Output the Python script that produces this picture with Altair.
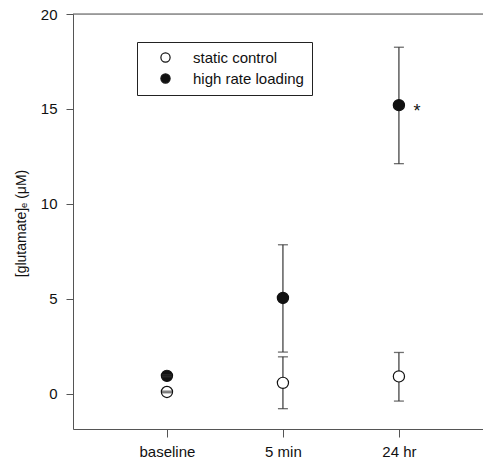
import altair as alt
import pandas as pd

categories = ["baseline", "5 min", "24 hr"]
series = ["static control", "high rate loading"]
static_mean = [0.10, 0.58, 0.92]
static_low = [0.06, -0.78, -0.38]
static_high = [0.14, 1.95, 2.18]
high_mean = [0.95, 5.05, 15.2]
high_low = [0.9, 2.2, 12.12]
high_high = [1.0, 7.85, 18.25]
significance = ["", "", "*"]

rows = []
for i, c in enumerate(categories):
    rows.append(dict(pos=i, cat=c, series=series[0], mean=static_mean[i],
                     low=static_low[i], high=static_high[i], sig=""))
    rows.append(dict(pos=i, cat=c, series=series[1], mean=high_mean[i],
                     low=high_low[i], high=high_high[i], sig=significance[i]))
df = pd.DataFrame(rows)

label_expr = "[" + ",".join("'%s'" % c for c in categories) + "][datum.value]"

x = alt.X("pos:Q",
          scale=alt.Scale(domain=[-0.81, 2.725], nice=False, zero=False),
          axis=alt.Axis(values=[0, 1, 2], labelExpr=label_expr, title=None,
                        grid=False, tickSize=8, labelPadding=7, labelFontSize=15,
                        domainColor="#555", tickColor="#555", labelColor="#111"))
y_scale = alt.Scale(domain=[-1.85, 20], nice=False, zero=False)
y = alt.Y("mean:Q", scale=y_scale,
          axis=alt.Axis(values=[0, 5, 10, 15, 20], title="[glutamate]ₑ (μM)",
                        grid=False, tickSize=7, labelPadding=9, labelFontSize=15,
                        titleFontSize=14, titleFontWeight="normal",
                        titleX=-52, titleY=209, titleAngle=-90,
                        titleAlign="center", titleBaseline="middle",
                        domainColor="#555", tickColor="#555", labelColor="#111",
                        titleColor="#111"))

base = alt.Chart(df)

top_line = alt.Chart(pd.DataFrame({"top": [20]})).mark_rule(
    color="#555", strokeWidth=1.2).encode(
    y=alt.Y("top:Q", scale=y_scale), x=alt.value(0), x2=alt.value(410))

rules = base.mark_rule(color="#444", strokeWidth=1.3).encode(
    x=x, y=alt.Y("low:Q", scale=y_scale), y2="high:Q")
cap_low = base.mark_tick(orient="horizontal", size=10, thickness=1.3, color="#333").encode(
    x=x, y=alt.Y("low:Q", scale=y_scale))
cap_high = base.mark_tick(orient="horizontal", size=10, thickness=1.3, color="#333").encode(
    x=x, y=alt.Y("high:Q", scale=y_scale))

points = base.mark_point(shape="circle", size=125, stroke="#111", strokeWidth=1.2,
                         fillOpacity=1, opacity=1).encode(
    x=x, y=y,
    fill=alt.Fill("series:N",
                  scale=alt.Scale(domain=series, range=["white", "#111"]),
                  legend=alt.Legend(title=None, orient="none", legendX=64, legendY=28,
                                    padding=8, strokeColor="#222", symbolSize=85,
                                    symbolStrokeColor="#111", symbolStrokeWidth=1.2,
                                    symbolType="circle", labelFontSize=15,
                                    labelOffset=20, symbolOffset=13, rowPadding=5,
                                    labelColor="#111")))

stars = base.transform_filter(alt.datum.sig != "").mark_text(
    dx=18, dy=7, fontSize=18, color="#111").encode(x=x, y=y, text="sig:N")

chart = alt.layer(top_line, rules, points, cap_low, cap_high, stars).properties(
    width=410, height=415,
    autosize=alt.AutoSizeParams(type="none"),
    padding={"left": 73, "top": 14, "right": 0, "bottom": 38},
).configure_view(stroke=None).configure(
    font="Liberation Sans")

chart.save("out.html", embed_options={"renderer": "svg", "actions": False})
